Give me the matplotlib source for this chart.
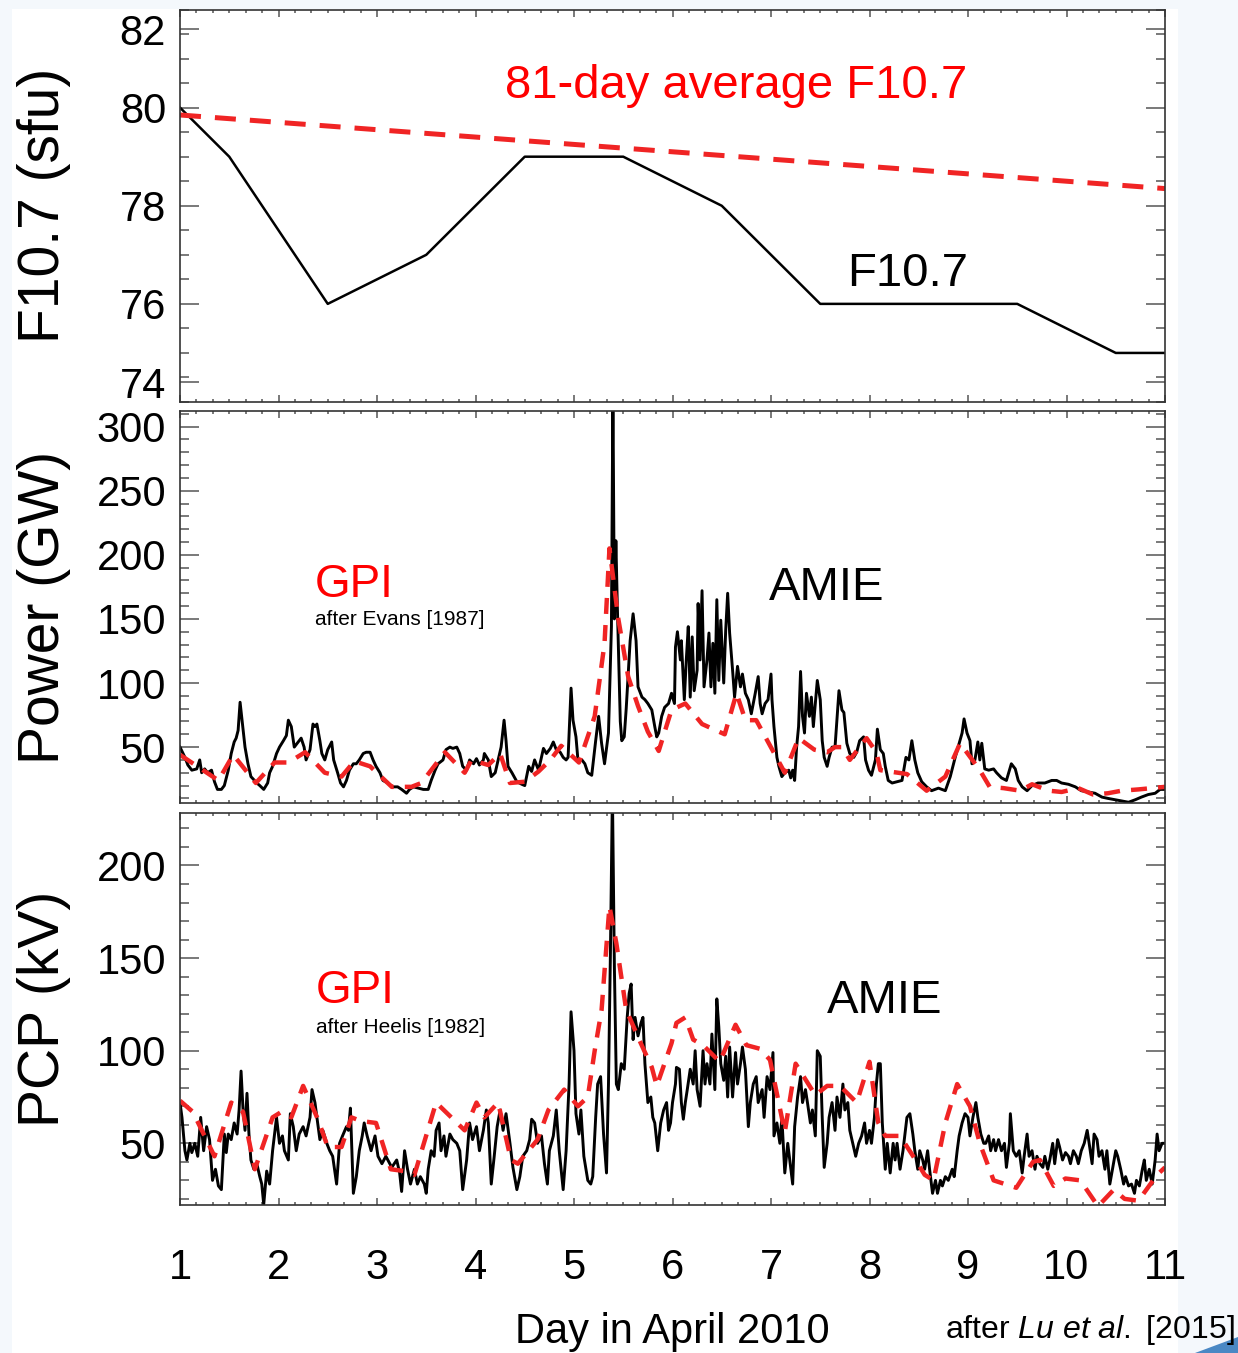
import numpy as np
import matplotlib
matplotlib.use("Agg")
import matplotlib.pyplot as plt
from matplotlib.ticker import MultipleLocator
from matplotlib.patches import Rectangle, Polygon

plt.rcParams['font.family'] = ['Liberation Sans', 'DejaVu Sans']
plt.rcParams['mathtext.fontset'] = 'custom'
plt.rcParams['mathtext.rm'] = 'Liberation Sans'
plt.rcParams['mathtext.it'] = 'Liberation Sans:italic'

# F10.7 (sfu), daily values and the 81-day average
f107_day = [1.0, 1.5, 2.5, 3.5, 4.5, 5.5, 6.5, 7.5, 8.5, 9.5, 10.5, 11.0]
f107 = [80, 79, 76, 77, 79, 79, 78, 76, 76, 76, 75, 75]
f107_avg_day = [1.0, 11.0]
f107_avg = [79.85, 78.35]

# hemispheric power (GW): AMIE and GPI (after Evans 1987)
power_amie = np.array([
    (1.00, 50), (1.05, 42), (1.08, 36), (1.12, 32), (1.17, 33), (1.20, 40), (1.22, 30), (1.25, 33),
    (1.28, 30), (1.32, 32), (1.35, 23), (1.38, 17), (1.42, 17), (1.45, 20), (1.49, 32), (1.52, 45),
    (1.55, 54), (1.57, 57), (1.59, 63), (1.61, 85), (1.63, 71), (1.66, 50), (1.69, 37), (1.72, 27),
    (1.78, 22), (1.81, 20), (1.85, 17), (1.89, 22), (1.91, 30), (1.94, 35), (1.98, 45), (2.01, 50),
    (2.05, 55), (2.08, 59), (2.10, 71), (2.13, 66), (2.16, 50), (2.20, 54), (2.23, 57), (2.26, 50),
    (2.28, 40), (2.32, 48), (2.35, 68), (2.37, 66), (2.39, 68), (2.42, 55), (2.44, 45), (2.47, 40),
    (2.50, 48), (2.54, 54), (2.56, 40), (2.60, 30), (2.63, 22), (2.66, 19), (2.69, 24), (2.72, 32),
    (2.76, 37), (2.79, 37), (2.82, 40), (2.86, 45), (2.89, 46), (2.93, 46), (2.96, 40), (2.99, 35),
    (3.03, 30), (3.06, 24), (3.11, 22), (3.16, 19), (3.21, 19), (3.25, 17), (3.30, 14), (3.33, 17),
    (3.37, 19), (3.42, 18), (3.47, 17), (3.52, 17), (3.55, 24), (3.59, 32), (3.62, 37), (3.67, 40),
    (3.70, 48), (3.74, 50), (3.77, 49), (3.81, 50), (3.84, 45), (3.87, 35), (3.91, 32), (3.94, 40),
    (3.98, 37), (4.01, 41), (4.04, 36), (4.08, 40), (4.09, 45), (4.13, 40), (4.16, 27), (4.20, 30),
    (4.23, 40), (4.26, 50), (4.29, 71), (4.31, 55), (4.33, 35), (4.37, 30), (4.42, 23), (4.47, 21),
    (4.50, 20), (4.54, 35), (4.57, 31), (4.60, 40), (4.64, 32), (4.69, 49), (4.72, 45), (4.76, 49),
    (4.79, 54), (4.82, 48), (4.86, 46), (4.89, 42), (4.92, 40), (4.94, 42), (4.97, 96), (4.99, 71),
    (5.02, 58), (5.04, 40), (5.08, 40), (5.11, 37), (5.14, 30), (5.18, 28), (5.22, 55), (5.25, 74),
    (5.28, 53), (5.31, 37), (5.35, 61), (5.38, 144), (5.395, 330), (5.41, 150), (5.425, 211),
    (5.44, 160), (5.47, 70), (5.485, 55), (5.51, 58), (5.53, 80), (5.57, 133), (5.60, 154),
    (5.63, 133), (5.65, 97), (5.69, 89), (5.72, 87), (5.75, 84), (5.79, 79), (5.82, 66), (5.84, 58),
    (5.86, 61), (5.89, 74), (5.92, 81), (5.96, 84), (5.99, 92), (6.02, 84), (6.03, 128), (6.05, 140),
    (6.08, 118), (6.09, 133), (6.12, 87), (6.14, 118), (6.16, 144), (6.18, 89), (6.20, 136),
    (6.22, 94), (6.25, 110), (6.26, 162), (6.28, 118), (6.30, 172), (6.32, 97), (6.35, 118),
    (6.37, 139), (6.39, 97), (6.41, 131), (6.43, 92), (6.45, 165), (6.47, 102), (6.49, 149),
    (6.52, 100), (6.54, 141), (6.56, 170), (6.58, 139), (6.61, 110), (6.63, 89), (6.66, 113),
    (6.69, 97), (6.71, 107), (6.74, 92), (6.77, 87), (6.80, 76), (6.82, 84), (6.84, 92), (6.87, 105),
    (6.89, 84), (6.91, 76), (6.94, 84), (6.97, 87), (7.00, 107), (7.01, 87), (7.03, 66), (7.06, 42),
    (7.08, 35), (7.11, 27), (7.14, 30), (7.18, 32), (7.20, 26), (7.22, 32), (7.24, 24), (7.26, 50),
    (7.28, 66), (7.30, 109), (7.32, 74), (7.34, 61), (7.36, 92), (7.39, 74), (7.41, 89), (7.43, 66),
    (7.45, 84), (7.47, 102), (7.50, 87), (7.52, 55), (7.54, 42), (7.57, 35), (7.59, 42), (7.62, 50),
    (7.65, 50), (7.69, 94), (7.72, 79), (7.74, 77), (7.77, 53), (7.80, 45), (7.84, 42), (7.87, 46),
    (7.90, 55), (7.94, 58), (7.96, 40), (7.99, 32), (8.02, 28), (8.06, 40), (8.08, 64), (8.11, 48),
    (8.14, 45), (8.16, 35), (8.19, 24), (8.23, 22), (8.28, 23), (8.33, 24), (8.37, 42), (8.40, 40),
    (8.43, 55), (8.46, 40), (8.49, 30), (8.53, 23), (8.58, 19), (8.63, 16), (8.70, 18), (8.77, 16),
    (8.82, 27), (8.87, 42), (8.91, 53), (8.94, 61), (8.96, 72), (8.99, 61), (9.02, 55), (9.04, 37),
    (9.07, 40), (9.10, 54), (9.12, 40), (9.14, 53), (9.17, 33), (9.21, 32), (9.26, 33), (9.29, 30),
    (9.34, 26), (9.39, 24), (9.44, 37), (9.48, 33), (9.51, 24), (9.55, 19), (9.60, 16), (9.65, 20),
    (9.71, 22), (9.78, 22), (9.85, 24), (9.90, 24), (9.95, 22), (10.02, 21), (10.09, 19),
    (10.15, 16), (10.22, 15), (10.29, 14), (10.36, 11), (10.42, 10), (10.49, 9), (10.56, 8),
    (10.63, 7), (10.70, 9), (10.76, 11), (10.83, 13), (10.90, 14), (10.95, 17), (11.00, 17),
])
power_gpi = np.array([
    (1.00, 44), (1.39, 24), (1.54, 44), (1.77, 22), (1.96, 38), (2.10, 38), (2.27, 46), (2.47, 30),
    (2.64, 27), (2.77, 39), (2.93, 35), (3.15, 19), (3.35, 19), (3.45, 22), (3.69, 46), (3.89, 30),
    (3.96, 40), (4.13, 36), (4.25, 45), (4.35, 22), (4.50, 23), (4.64, 31), (4.76, 40), (4.87, 51),
    (5.05, 38), (5.21, 74), (5.31, 131), (5.36, 205), (5.45, 150), (5.55, 105), (5.65, 82),
    (5.75, 62), (5.86, 47), (5.99, 79), (6.13, 84), (6.30, 68), (6.53, 60), (6.65, 92), (6.74, 71),
    (6.85, 71), (7.14, 30), (7.28, 57), (7.44, 48), (7.57, 46), (7.65, 50), (7.72, 50), (7.80, 40),
    (7.97, 57), (8.07, 46), (8.11, 32), (8.38, 29), (8.58, 16), (8.77, 27), (8.92, 53), (9.12, 32),
    (9.22, 19), (9.36, 18), (9.53, 16), (9.65, 21), (9.82, 16), (9.95, 15), (10.12, 18),
    (10.27, 13), (10.42, 14), (10.56, 16), (10.73, 17), (11.00, 19),
])

# cross polar cap potential (kV): AMIE and GPI (after Heelis 1982)
pcp_amie = np.array([
    (1.00, 72), (1.02, 64), (1.05, 46), (1.07, 41), (1.10, 50), (1.12, 45), (1.15, 50), (1.18, 43),
    (1.21, 64), (1.24, 46), (1.27, 59), (1.30, 52), (1.33, 30), (1.36, 36), (1.39, 27), (1.42, 25),
    (1.45, 55), (1.47, 45), (1.49, 55), (1.52, 52), (1.55, 61), (1.58, 55), (1.60, 68), (1.62, 89),
    (1.64, 68), (1.66, 57), (1.68, 77), (1.70, 55), (1.72, 41), (1.75, 36), (1.78, 39), (1.81, 32),
    (1.83, 28), (1.85, 17), (1.88, 35), (1.91, 28), (1.94, 46), (1.98, 64), (2.01, 50), (2.04, 54),
    (2.06, 46), (2.10, 41), (2.12, 66), (2.15, 59), (2.18, 46), (2.21, 55), (2.25, 59), (2.28, 54),
    (2.32, 64), (2.34, 79), (2.37, 72), (2.39, 64), (2.42, 52), (2.45, 57), (2.49, 50), (2.52, 46),
    (2.55, 43), (2.59, 28), (2.62, 50), (2.65, 54), (2.69, 59), (2.71, 57), (2.73, 69), (2.76, 23),
    (2.79, 32), (2.82, 46), (2.85, 54), (2.87, 61), (2.90, 54), (2.94, 46), (2.98, 54), (3.01, 43),
    (3.05, 39), (3.09, 43), (3.15, 37), (3.20, 41), (3.23, 34), (3.25, 24), (3.28, 46), (3.31, 36),
    (3.34, 28), (3.38, 36), (3.41, 28), (3.44, 32), (3.48, 28), (3.50, 23), (3.52, 36), (3.55, 46),
    (3.58, 43), (3.60, 57), (3.63, 61), (3.65, 46), (3.68, 54), (3.70, 43), (3.74, 55), (3.77, 52),
    (3.81, 50), (3.84, 46), (3.87, 25), (3.91, 41), (3.94, 61), (3.97, 52), (4.01, 59), (4.04, 46),
    (4.08, 57), (4.11, 68), (4.13, 61), (4.16, 28), (4.19, 43), (4.22, 59), (4.25, 68), (4.28, 57),
    (4.31, 66), (4.35, 50), (4.38, 37), (4.42, 25), (4.45, 32), (4.48, 43), (4.52, 46), (4.55, 52),
    (4.57, 63), (4.60, 61), (4.63, 50), (4.67, 54), (4.70, 39), (4.73, 28), (4.75, 46), (4.79, 54),
    (4.82, 68), (4.85, 46), (4.89, 25), (4.92, 46), (4.95, 82), (4.97, 121), (5.00, 100), (5.02, 66),
    (5.05, 55), (5.07, 68), (5.10, 43), (5.14, 30), (5.17, 28), (5.19, 32), (5.22, 64), (5.24, 82),
    (5.27, 86), (5.30, 55), (5.33, 34), (5.35, 82), (5.37, 154), (5.39, 240), (5.41, 145),
    (5.43, 82), (5.45, 79), (5.48, 93), (5.51, 90), (5.54, 118), (5.56, 131), (5.58, 136),
    (5.60, 106), (5.62, 118), (5.65, 108), (5.68, 115), (5.70, 118), (5.72, 93), (5.75, 72),
    (5.78, 75), (5.80, 64), (5.82, 61), (5.85, 46), (5.88, 61), (5.91, 68), (5.94, 72), (5.96, 57),
    (5.98, 61), (6.00, 72), (6.03, 82), (6.04, 91), (6.07, 90), (6.09, 72), (6.11, 63), (6.13, 72),
    (6.15, 79), (6.18, 90), (6.21, 82), (6.23, 100), (6.25, 79), (6.28, 70), (6.31, 100), (6.33, 82),
    (6.35, 93), (6.38, 82), (6.40, 109), (6.43, 79), (6.45, 128), (6.47, 113), (6.49, 93),
    (6.52, 84), (6.54, 97), (6.56, 75), (6.58, 102), (6.61, 75), (6.64, 99), (6.66, 82), (6.69, 93),
    (6.71, 102), (6.74, 90), (6.77, 59), (6.79, 72), (6.82, 82), (6.85, 86), (6.87, 72), (6.91, 79),
    (6.93, 64), (6.96, 86), (6.99, 79), (7.02, 99), (7.03, 54), (7.06, 61), (7.09, 50), (7.11, 64),
    (7.14, 34), (7.17, 50), (7.19, 41), (7.22, 28), (7.24, 59), (7.27, 75), (7.30, 86), (7.32, 72),
    (7.35, 79), (7.37, 72), (7.40, 61), (7.42, 68), (7.45, 54), (7.47, 100), (7.50, 97), (7.52, 64),
    (7.54, 37), (7.57, 50), (7.59, 64), (7.62, 72), (7.65, 57), (7.67, 75), (7.70, 64), (7.73, 82),
    (7.75, 68), (7.78, 72), (7.80, 57), (7.83, 50), (7.86, 43), (7.89, 50), (7.92, 54), (7.95, 61),
    (7.97, 50), (8.00, 57), (8.02, 50), (8.05, 64), (8.07, 82), (8.09, 93), (8.11, 93), (8.13, 61),
    (8.16, 36), (8.18, 50), (8.21, 34), (8.24, 50), (8.26, 41), (8.28, 50), (8.31, 36), (8.34, 46),
    (8.36, 55), (8.38, 64), (8.41, 66), (8.44, 55), (8.46, 46), (8.49, 36), (8.51, 46), (8.54, 41),
    (8.56, 36), (8.59, 46), (8.61, 36), (8.64, 23), (8.67, 30), (8.69, 23), (8.72, 30), (8.74, 27),
    (8.77, 32), (8.80, 30), (8.84, 36), (8.86, 32), (8.89, 46), (8.91, 54), (8.94, 61), (8.97, 66),
    (9.00, 64), (9.02, 54), (9.05, 64), (9.08, 72), (9.10, 64), (9.13, 55), (9.16, 50), (9.18, 50),
    (9.21, 54), (9.23, 46), (9.26, 52), (9.28, 46), (9.31, 52), (9.34, 46), (9.37, 50), (9.39, 37),
    (9.42, 50), (9.43, 66), (9.46, 46), (9.49, 43), (9.52, 46), (9.55, 34), (9.57, 43), (9.60, 55),
    (9.62, 43), (9.65, 46), (9.68, 36), (9.70, 43), (9.73, 39), (9.76, 37), (9.78, 43), (9.81, 36),
    (9.83, 41), (9.86, 50), (9.88, 39), (9.91, 52), (9.93, 48), (9.96, 41), (9.99, 45), (10.02, 43),
    (10.04, 39), (10.07, 46), (10.10, 43), (10.12, 39), (10.15, 46), (10.18, 50), (10.21, 57),
    (10.23, 50), (10.26, 39), (10.28, 55), (10.31, 52), (10.33, 43), (10.36, 46), (10.39, 36),
    (10.41, 46), (10.44, 28), (10.47, 37), (10.50, 46), (10.52, 43), (10.55, 36), (10.58, 28),
    (10.60, 32), (10.63, 27), (10.66, 28), (10.69, 23), (10.71, 30), (10.74, 27), (10.77, 36),
    (10.79, 41), (10.81, 30), (10.84, 36), (10.87, 28), (10.90, 41), (10.92, 55), (10.94, 46),
    (10.97, 50), (11.00, 50),
])
pcp_gpi = np.array([
    (1.00, 73), (1.13, 67), (1.35, 43), (1.52, 72), (1.64, 67), (1.76, 36), (1.94, 64), (2.03, 67),
    (2.13, 64), (2.25, 81), (2.40, 63), (2.50, 48), (2.64, 48), (2.74, 64), (2.84, 62), (2.99, 61),
    (3.14, 36), (3.28, 35), (3.38, 33), (3.60, 72), (3.89, 57), (4.01, 72), (4.09, 64), (4.23, 72),
    (4.36, 41), (4.43, 39), (4.63, 52), (4.74, 68), (4.90, 79), (5.04, 70), (5.14, 75), (5.21, 100),
    (5.28, 122), (5.36, 178), (5.43, 158), (5.53, 122), (5.67, 105), (5.79, 91), (5.84, 81),
    (5.99, 104), (6.04, 115), (6.13, 118), (6.21, 106), (6.31, 103), (6.48, 94), (6.64, 114),
    (6.75, 103), (6.89, 101), (6.99, 95), (7.14, 56), (7.25, 93), (7.45, 76), (7.57, 81),
    (7.70, 81), (7.87, 72), (8.00, 94), (8.09, 61), (8.16, 54), (8.31, 54), (8.48, 40), (8.56, 33),
    (8.65, 30), (8.77, 61), (8.89, 82), (9.02, 70), (9.12, 50), (9.26, 30), (9.49, 26), (9.66, 40),
    (9.73, 41), (9.87, 27), (9.99, 31), (10.14, 30), (10.32, 16), (10.48, 25), (10.59, 20),
    (10.73, 19), (10.92, 33), (11.00, 37),
])

day_ticks = list(range(1, 12))
red = '#f02424'

fig = plt.figure(figsize=(12.38, 13.53), dpi=100)
fig.patch.set_facecolor('#f4f8fc')
fig.patches.append(Rectangle((12 / 1238, 0), 1166 / 1238, 1 - 9 / 1353, transform=fig.transFigure,
                             facecolor='white', edgecolor='none', zorder=-1))
fig.patches.append(Polygon([(1195 / 1238, 0), (1.0, 16 / 1353), (1.0, 0)], closed=True,
                           transform=fig.transFigure, facecolor='#4a88c4', edgecolor='none', zorder=-1))

left, width = 180 / 1238, 985 / 1238
ax1 = fig.add_axes([left, 1 - 402 / 1353, width, 392.5 / 1353])
ax2 = fig.add_axes([left, 1 - 803 / 1353, width, 392 / 1353])
ax3 = fig.add_axes([left, 1 - 1205 / 1353, width, 392.5 / 1353])

ax1.plot(f107_day, f107, color='black', lw=1.8)
ax1.plot(f107_avg_day, f107_avg, color=red, lw=3.6, linestyle=(0, (4.2, 2.8)))
ax1.text(6.65, 80.2, '81-day average F10.7', color='#ff0000', fontsize=34, ha='center', va='baseline')
ax1.text(8.39, 76.36, 'F10.7', color='black', fontsize=34, ha='center', va='baseline')
ax1.set_ylim(74, 82)
ax1.set_yticks([74.4, 76, 78, 80, 81.6], labels=['74', '76', '78', '80', '82'])
ax1.yaxis.set_minor_locator(MultipleLocator(0.5))
ax1.set_ylabel('F10.7 (sfu)', fontsize=41)

ax2.plot(power_amie[:, 0], power_amie[:, 1], color='black', lw=2.1)
ax2.plot(power_gpi[:, 0], power_gpi[:, 1], color=red, lw=3.2, linestyle=(0, (3.6, 2.5)))
ax2.text(2.37, 166.8, 'GPI', color='#ff0000', fontsize=33, ha='left', va='baseline')
ax2.text(2.37, 145, 'after Evans [1987]', color='black', fontsize=15, ha='left', va='baseline')
ax2.text(6.98, 164.5, 'AMIE', color='black', fontsize=34, ha='left', va='baseline')
ax2.set_ylim(6.4, 312.2)
ax2.set_yticks([50, 100, 150, 200, 250, 300])
ax2.yaxis.set_minor_locator(MultipleLocator(10))
ax2.set_ylabel('Power (GW)', fontsize=41)

ax3.plot(pcp_amie[:, 0], pcp_amie[:, 1], color='black', lw=2.1)
ax3.plot(pcp_gpi[:, 0], pcp_gpi[:, 1], color=red, lw=3.2, linestyle=(0, (3.6, 2.5)))
ax3.text(2.38, 125.8, 'GPI', color='#ff0000', fontsize=33, ha='left', va='baseline')
ax3.text(2.38, 109.7, 'after Heelis [1982]', color='black', fontsize=15, ha='left', va='baseline')
ax3.text(7.57, 120.4, 'AMIE', color='black', fontsize=34, ha='left', va='baseline')
ax3.set_ylim(16.7, 228.6)
ax3.set_yticks([50, 100, 150, 200])
ax3.yaxis.set_minor_locator(MultipleLocator(10))
ax3.set_ylabel('PCP (kV)', fontsize=41)
ax3.set_xlabel('Day in April 2010', fontsize=30)
ax3.xaxis.set_label_coords(0.5, -0.272)

for ax in (ax1, ax2, ax3):
    ax.set_xlim(1, 11)
    ax.set_xticks(day_ticks)
    ax.xaxis.set_minor_locator(MultipleLocator(1 / 6))
    ax.tick_params(which='both', direction='in', top=True, right=True, color='#555555', width=1.1)
    ax.tick_params(axis='y', which='major', length=14, labelsize=30, pad=10)
    ax.tick_params(axis='y', which='minor', length=6.5)
    ax.tick_params(axis='x', which='major', length=5, labelsize=30, pad=31)
    ax.tick_params(axis='x', which='minor', length=2.5)
    ax.yaxis.set_label_coords(-0.111, 0.5)
    for s in ax.spines.values():
        s.set_color('#333333')
        s.set_linewidth(1.2)

ax1.tick_params(axis='x', labelbottom=False)
ax2.tick_params(axis='x', labelbottom=False)

fig.text(1235 / 1238, 1 - 1338 / 1353, r'after $\mathit{Lu\ et\ al.}$ [2015]', fontsize=23,
         ha='right', va='baseline')

fig.savefig('out.png', dpi=100, facecolor=fig.get_facecolor())
